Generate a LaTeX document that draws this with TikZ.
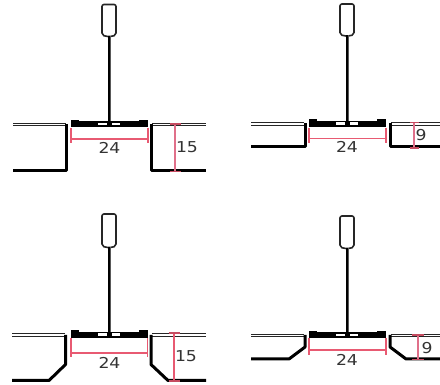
\documentclass[tikz,border=0pt]{standalone}
\usepackage{fontspec}
\setmainfont{DejaVu Sans}
\definecolor{dimred}{HTML}{E85A72}
\definecolor{dimpale}{HTML}{E0708A}
\tikzset{x=1pt,y=-1pt,
 wall/.style={line width=3pt,black,line join=round},
 skin/.style={line width=.8pt,black!85},
 hanger/.style={line width=1.6pt,black!85,rounded corners=2pt},
 stem/.style={line width=3pt,black!65},
 dim/.style={line width=1.15pt,dimred},
 dimv/.style={line width=1.6pt,dimpale},
 dimt/.style={line width=1.15pt,dimred!85!black},
 lab/.style={font=\fontsize{15}{16}\selectfont,text=black!80,inner sep=0pt,xscale=1.15}}
% #1 centre x, #2 bar top y, #3 hanger top, #4 hanger bottom
\newcommand{\tee}[4]{%
 \draw[hanger] (#1-7,#4) -- (#1-7,#3) -- (#1+7,#3) -- (#1+7,#4) -- (#1+3,#4+1.5) -- (#1-3,#4+1.5) -- cycle;
 \draw[stem] (#1,#4+1) -- (#1,#2+3);
 \draw[line width=1.2pt,black] (#1,#4+1) -- (#1,#2+3);
 \fill[black] (#1-38,#2+1.2) rectangle (#1+38.5,#2+7.5);
 \fill[black] (#1-38.5,#2) rectangle (#1-30,#2+7.5);
 \fill[black] (#1+30,#2) rectangle (#1+39,#2+7.5);
 \fill[white] (#1-11,#2+3) rectangle (#1-2.5,#2+5.4);
 \fill[white] (#1+2.5,#2+3) rectangle (#1+11,#2+5.4);
}
\begin{document}
\begin{tikzpicture}
\useasboundingbox (0,0) rectangle (440,385);
% ---- top left
\tee{109}{120}{4.5}{35}
\draw[skin] (13,123) -- (66,123) (13,125.5) -- (66,125.5) (152,123) -- (206,123) (152,125.5) -- (206,125.5);
\draw[wall] (13,171) -- (66.5,171) -- (66.5,124);
\draw[wall] (151,124) -- (151,171) -- (206,171);
\draw[dim] (71,128) -- (71,143) (148,128) -- (148,143) (71,139) -- (148,139);
\draw[dimv] (175,124) -- (175,171);
\draw[dimt] (170,124) -- (181,124) (170,171.5) -- (181,171.5);
\node[lab] (a24) at (109.5,148) {24};
\node[lab] (a15) at (187,147) {15};
% ---- top right
\tee{347}{119.5}{4}{34.5}
\draw[skin] (251,122.5) -- (304,122.5) (251,125) -- (304,125) (391,122.5) -- (440,122.5) (391,125) -- (440,125);
\draw[wall] (251,146.5) -- (305,146.5) -- (305,123.5);
\draw[wall] (390,123.5) -- (390,146.5) -- (440,146.5);
\draw[dim] (309,128) -- (309,143) (386,128) -- (386,143) (309,138.5) -- (386,138.5);
\draw[dimv] (414,122.5) -- (414,148);
\draw[dimt] (409.5,122.5) -- (419,122.5) (409.5,148) -- (419,148);
\node[lab] (b24) at (347,147) {24};
\node[lab] (b9) at (421,135) {9};
% ---- bottom left
\tee{109}{330.5}{214}{246}
\draw[skin] (12,333.5) -- (65,333.5) (12,336) -- (65,336) (152,333.5) -- (206,333.5) (152,336) -- (206,336);
\draw[wall] (12,380.5) -- (49,380.5) -- (65.5,364.5) -- (65.5,335);
\draw[wall] (151,335) -- (151,364.5) -- (168,380.5) -- (206,380.5);
\draw[dim] (71,338) -- (71,357) (147.5,338) -- (147.5,357) (71,353) -- (147.5,353);
\draw[dim] (174,333) -- (174,381);
\draw[dimt] (168.5,333) -- (180,333) (168.5,381) -- (180,381);
\node[lab] (c24) at (109.5,363) {24};
\node[lab] (c15) at (186,356) {15};
% ---- bottom right
\tee{347}{331}{216}{247}
\draw[skin] (251,334) -- (304,334) (251,336.5) -- (304,336.5) (391,334) -- (440,334) (391,336.5) -- (440,336.5);
\draw[wall] (251,359) -- (289,359) -- (305,347) -- (305,335);
\draw[wall] (390,335) -- (390,347) -- (406,359) -- (440,359);
\draw[dim] (309,338) -- (309,355) (386,338) -- (386,355) (309,350) -- (386,350);
\draw[dimv] (418,335) -- (418,359.5);
\draw[dimt] (412,335) -- (424,335) (412,359.5) -- (424,359.5);
\node[lab] (d24) at (347,360) {24};
\node[lab] (d9) at (427,348) {9};
\end{tikzpicture}
\end{document}
